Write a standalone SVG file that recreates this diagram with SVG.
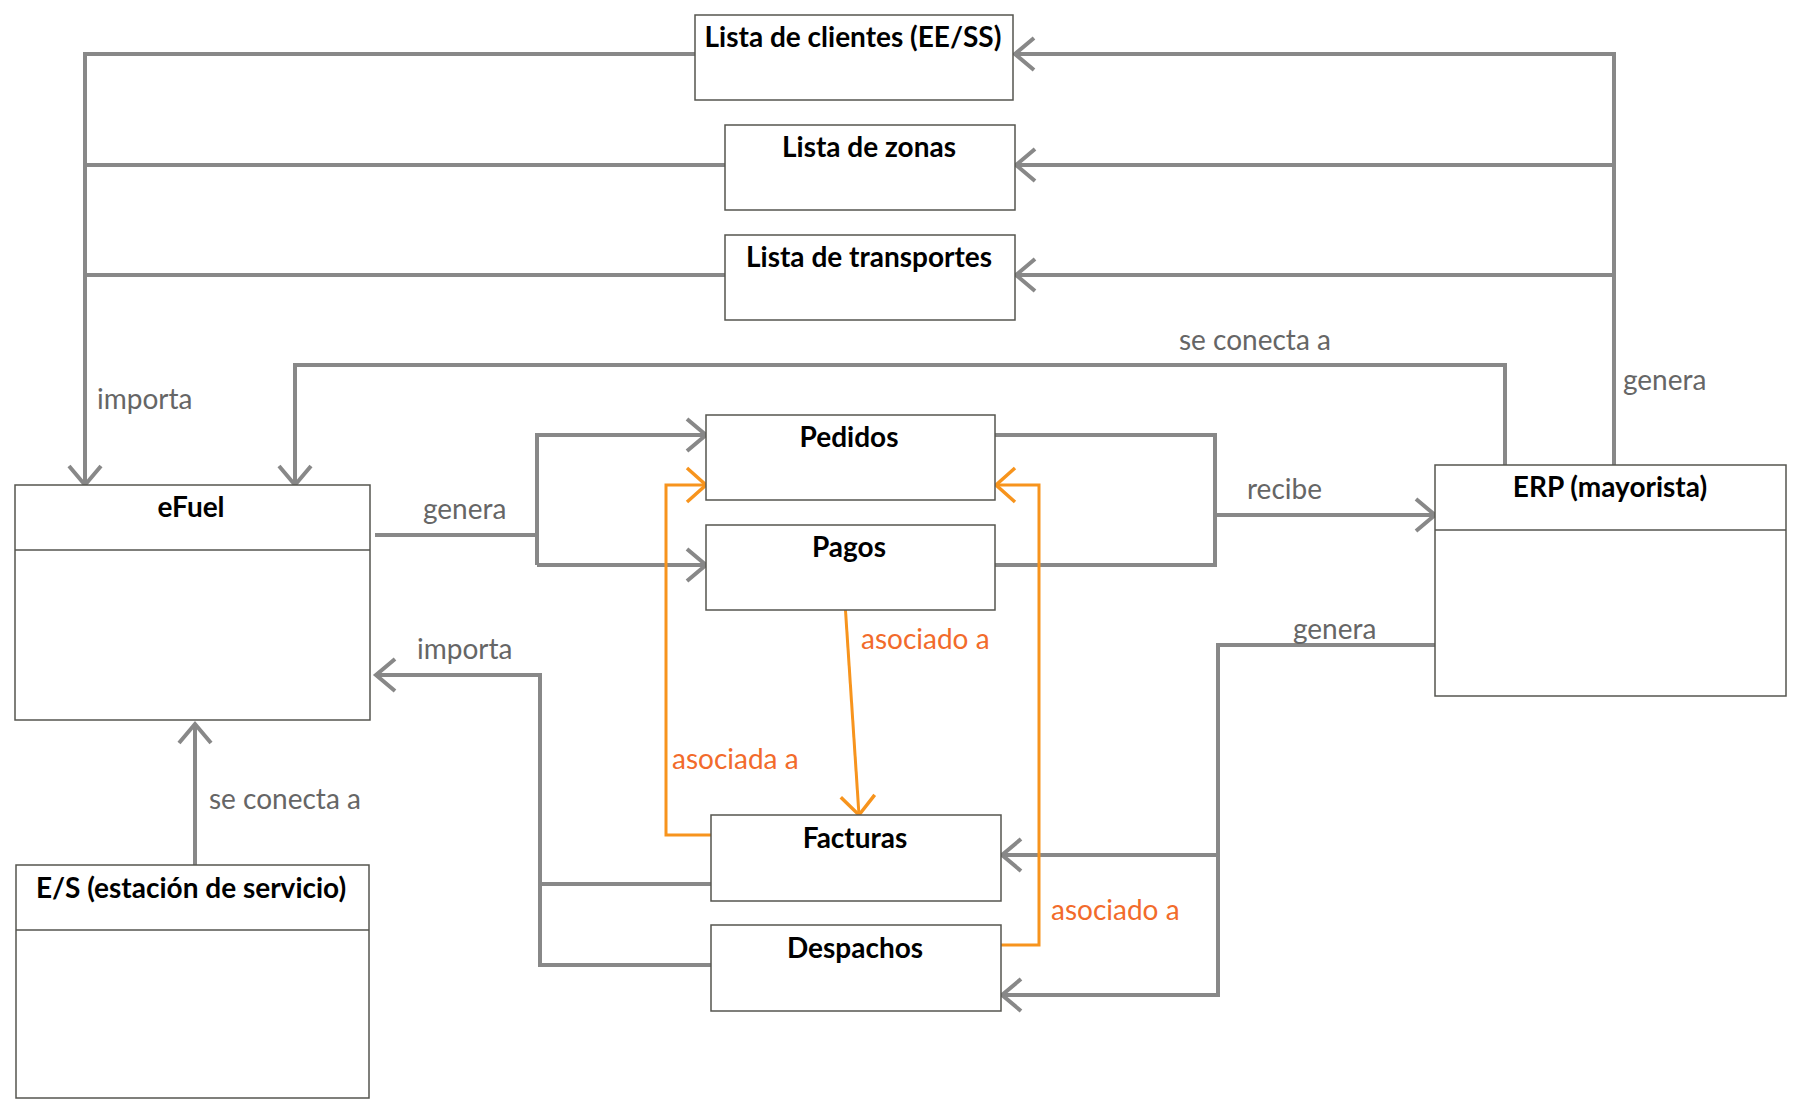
<svg xmlns="http://www.w3.org/2000/svg" width="1800" height="1110" viewBox="0 0 1800 1110">
<defs>
<style>
.box{fill:#fff;stroke:#55554f;stroke-width:1.5}
.title{font-family:Lato,"Liberation Sans",sans-serif;font-weight:bold;font-size:28px;fill:#000;text-anchor:middle}
.g{fill:none;stroke:#888;stroke-width:4}
.o{fill:none;stroke:#f7941d;stroke-width:3}
.lg{font-family:Lato,"Liberation Sans",sans-serif;font-size:28px;fill:#666}
.lo{font-family:Lato,"Liberation Sans",sans-serif;font-size:28px;fill:#f26b2b}
</style>
<marker id="ag" markerUnits="userSpaceOnUse" markerWidth="40" markerHeight="40" viewBox="-22 -20 26 40" refX="0" refY="0" orient="auto">
<path d="M-19,-16 L0,0 L-19,16" fill="none" stroke="#888" stroke-width="4"/>
</marker>
<marker id="ao" markerUnits="userSpaceOnUse" markerWidth="40" markerHeight="40" viewBox="-22 -20 26 40" refX="0" refY="0" orient="auto">
<path d="M-19,-17 L0,0 L-19,17" fill="none" stroke="#f7941d" stroke-width="3.5"/>
</marker>
</defs>
<rect width="1800" height="1110" fill="#fff"/>
<g id="connectors">
<path class="g" d="M695,54 H85 V485" marker-end="url(#ag)"/>
<path class="g" d="M725,165 H85"/>
<path class="g" d="M725,275 H85"/>
<path class="g" d="M1614,465 V54 H1015" marker-end="url(#ag)"/>
<path class="g" d="M1614,165 H1016" marker-end="url(#ag)"/>
<path class="g" d="M1614,275 H1016" marker-end="url(#ag)"/>
<path class="g" d="M1505,465 V365 H295 V485" marker-end="url(#ag)"/>
<path class="g" d="M375,535 H537"/>
<path class="g" d="M537,565 V435 H706" marker-end="url(#ag)"/>
<path class="g" d="M537,565 H706" marker-end="url(#ag)"/>
<path class="g" d="M995,435 H1215 V565 H995"/>
<path class="g" d="M1215,515 H1435" marker-end="url(#ag)"/>
<path class="g" d="M1435,645 H1218 V995 H1002" marker-end="url(#ag)"/>
<path class="g" d="M1218,855 H1002" marker-end="url(#ag)"/>
<path class="g" d="M711,965 H540 V675 H376" marker-end="url(#ag)"/>
<path class="g" d="M711,884 H540"/>
<path class="g" d="M195,865 V724" marker-end="url(#ag)"/>
<path class="o" d="M711,835 H666 V485 H706" marker-end="url(#ao)"/>
<path class="o" d="M845,603 L859,815" marker-end="url(#ao)"/>
<path class="o" d="M1001,945 H1039 V485 H996" marker-end="url(#ao)"/>
<text class="lg" x="97" y="409">importa</text>
<text class="lg" x="1623" y="390">genera</text>
<text class="lg" x="1179" y="350">se conecta a</text>
<text class="lg" x="423" y="519">genera</text>
<text class="lg" x="1247" y="499">recibe</text>
<text class="lg" x="1293" y="639">genera</text>
<text class="lg" x="417" y="659">importa</text>
<text class="lg" x="209" y="809">se conecta a</text>
<text class="lo" x="672" y="769">asociada a</text>
<text class="lo" x="861" y="649">asociado a</text>
<text class="lo" x="1051" y="920">asociado a</text>
</g>
<g id="clientes"><rect class="box" x="695" y="15" width="318" height="85"/><text class="title" x="853" y="47">Lista de clientes (EE/SS)</text></g>
<g id="zonas"><rect class="box" x="725" y="125" width="290" height="85"/><text class="title" x="869" y="157">Lista de zonas</text></g>
<g id="transportes"><rect class="box" x="725" y="235" width="290" height="85"/><text class="title" x="869" y="267">Lista de transportes</text></g>
<g id="efuel"><rect class="box" x="15" y="485" width="355" height="235"/><line class="box" x1="15" y1="550" x2="370" y2="550"/><text class="title" x="191" y="517">eFuel</text></g>
<g id="erp"><rect class="box" x="1435" y="465" width="351" height="231"/><line class="box" x1="1435" y1="530" x2="1786" y2="530"/><text class="title" x="1610" y="497">ERP (mayorista)</text></g>
<g id="pedidos"><rect class="box" x="706" y="415" width="289" height="85"/><text class="title" x="849" y="447">Pedidos</text></g>
<g id="pagos"><rect class="box" x="706" y="525" width="289" height="85"/><text class="title" x="849" y="557">Pagos</text></g>
<g id="facturas"><rect class="box" x="711" y="815" width="290" height="86"/><text class="title" x="855" y="848">Facturas</text></g>
<g id="despachos"><rect class="box" x="711" y="925" width="290" height="86"/><text class="title" x="855" y="958">Despachos</text></g>
<g id="es"><rect class="box" x="16" y="865" width="353" height="233"/><line class="box" x1="16" y1="930" x2="369" y2="930"/><text class="title" x="191" y="898">E/S (estación de servicio)</text></g>
</svg>
